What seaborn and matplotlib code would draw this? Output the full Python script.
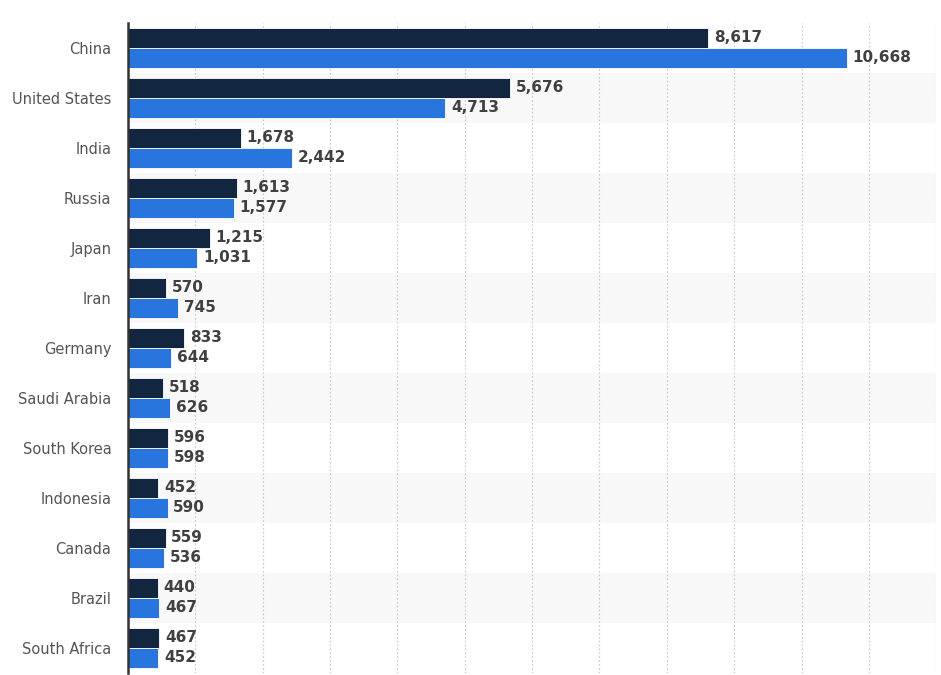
import pandas as pd
import matplotlib
matplotlib.use('Agg')
import matplotlib.pyplot as plt
import seaborn as sns

countries = ['China', 'United States', 'India', 'Russia', 'Japan', 'Iran', 'Germany',
             'Saudi Arabia', 'South Korea', 'Indonesia', 'Canada', 'Brazil', 'South Africa']
series_a = [8617, 5676, 1678, 1613, 1215, 570, 833, 518, 596, 452, 559, 440, 467]
series_b = [10668, 4713, 2442, 1577, 1031, 745, 644, 626, 598, 590, 536, 467, 452]
series_names = ['A', 'B']
colors = ['#13263f', '#2876dd']

df = pd.DataFrame({
    'country': countries * 2,
    'value': series_a + series_b,
    'series': [series_names[0]] * len(countries) + [series_names[1]] * len(countries),
})

sns.set_style('white')
plt.rcParams['font.family'] = ['DejaVu Sans']

fig = plt.figure(figsize=(9.41, 6.75), dpi=100)
ax = fig.add_axes([0.136, 0.003, 0.859, 0.963])

# alternating row shading
for i in range(len(countries)):
    if i % 2 == 1:
        ax.axhspan(i - 0.5, i + 0.5, color='#f8f8f8', zorder=0, lw=0)

sns.barplot(data=df, y='country', x='value', hue='series', orient='h',
            palette=colors, saturation=1, width=0.8, ax=ax, legend=False, zorder=3,
            edgecolor='white', linewidth=0.6)

for cont in ax.containers:
    ax.bar_label(cont, labels=[f'{v:,.0f}' for v in cont.datavalues], padding=4,
                 fontsize=11, fontweight='bold', color='#404040')

ax.set_xlim(0, 12000)
ax.set_ylim(len(countries) - 0.5, -0.5)
ax.set_xticks(range(1000, 12001, 1000))
ax.set_xticklabels([])
ax.tick_params(axis='x', length=0)
ax.tick_params(axis='y', length=0, pad=12, labelsize=10.5, labelcolor='#555555')
ax.xaxis.grid(True, linestyle=(0, (1.5, 2)), color='#c8c8c8', linewidth=0.8, zorder=1)
ax.set_axisbelow(True)
ax.set_xlabel('')
ax.set_ylabel('')
for s in ['top', 'right', 'bottom']:
    ax.spines[s].set_visible(False)
ax.spines['left'].set_color('#333333')
ax.spines['left'].set_linewidth(1.8)
ax.spines['left'].set_zorder(5)

fig.savefig('out.png', dpi=100)
